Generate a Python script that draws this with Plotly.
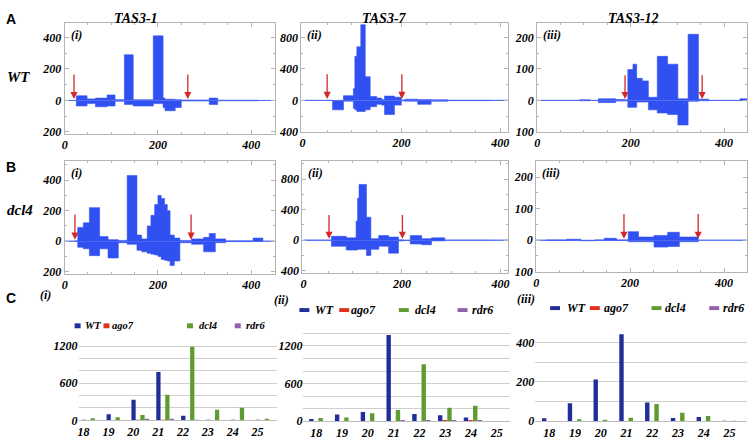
import plotly.graph_objects as go

W, H = 751, 447
BLUE = "#3050f2"
RED = "#d42828"
FRAME = "#b4b4b4"
SERIF = "Liberation Serif, Times New Roman, serif"
SANS = "Liberation Sans, Arial, sans-serif"
C_WT, C_AGO7, C_DCL4, C_RDR6 = "#1f2e98", "#e0301e", "#5f9b30", "#9060a8"

# ---------------- data: small-RNA profiles (position, sense, antisense) ----------------
A1_x   = [0, 25, 48, 66, 91, 108, 128, 147, 190, 211, 215, 237, 250, 310, 328, 415, 450]
A1_pos = [0, 30, 10, 15, 35, 5, 290, 5, 410, 15, 8, 5, 3, 15, 2, 0, 0]
A1_neg = [0, -35, -20, -40, -35, -5, -25, -35, -20, -45, -65, -45, -3, -25, -2, 0, 0]
A1_arrows = [20, 264]
A1_arrow_top = 175

A2_x   = [0, 50, 61, 83, 103, 106, 110, 118, 127, 137, 150, 160, 166, 186, 200, 207, 233, 260, 294, 381, 420]
A2_pos = [0, 2, 0, 60, 150, 560, 680, 960, 300, 50, 30, 10, 55, 40, 5, 15, 10, 8, 3, 0, 0]
A2_neg = [0, -2, -120, -10, -100, -120, -140, -140, -120, -80, -50, -60, -180, -60, -5, -10, -50, -10, -3, 0, 0]
A2_arrows = [50, 201]
A2_arrow_top = 350

A3_x   = [0, 91, 113, 131, 168, 187, 194, 205, 213, 225, 238, 257, 279, 301, 323, 345, 367, 434, 452]
A3_pos = [0, 2, 0, 5, 3, 2, 98, 115, 70, 62, 10, 140, 115, 5, 210, 4, 0, 5, 0]
A3_neg = [0, -1, 0, -7, -2, -2, -22, -22, -5, -5, -30, -40, -45, -78, -3, -1, 0, 0, 0]
A3_arrows = [188, 353]
A3_arrow_top = 85

B1_x   = [0, 22, 28, 40, 53, 75, 93, 115, 134, 155, 165, 177, 185, 193, 200, 207, 214, 220, 226, 235, 247, 272, 298, 310, 323, 345, 404, 425, 450]
B1_pos = [0, 2, 90, 120, 220, 30, 10, 5, 430, 40, 15, 100, 170, 240, 300, 280, 240, 200, 40, 20, 5, 15, 25, 50, 15, 3, 20, 0, 0]
B1_neg = [0, -2, -40, -50, -95, -50, -110, -10, -20, -60, -70, -80, -85, -90, -100, -120, -125, -130, -160, -130, -10, -20, -70, -70, -10, -3, -2, 0, 0]
B1_arrows = [22, 271]
B1_arrow_top = 185

B2_x   = [0, 7, 47, 57, 87, 107, 110, 113, 128, 137, 153, 173, 193, 203, 217, 240, 260, 287, 380, 420]
B2_pos = [0, 2, 2, 50, 30, 250, 550, 730, 300, 20, 60, 40, 5, 2, 60, 20, 30, 3, 0, 0]
B2_neg = [0, -1, -1, -80, -130, -130, -120, -120, -200, -120, -80, -170, -10, -5, -50, -60, -10, -2, 0, 0]
B2_arrows = [52, 201]
B2_arrow_top = 350

B3_x   = [0, 22, 65, 95, 125, 145, 171, 187, 196, 218, 251, 280, 305, 345, 450]
B3_pos = [0, 1, 3, 0, 1, 6, 1, 1, 27, 10, 15, 25, 10, 0, 0]
B3_neg = [0, -1, -1, -2, -1, -1, -1, -1, -5, -5, -22, -20, -5, 0, 0]
B3_arrows = [187, 345]
B3_arrow_top = 88

# ---------------- data: size distribution (nt) ----------------
sizes = [18, 19, 20, 21, 22, 23, 24, 25]
C1_WT   = [5, 96, 332, 782, 75, 5, 3, 2]
C1_ago7 = [0, 0, 10, 5, 0, 0, 0, 0]
C1_dcl4 = [35, 48, 86, 412, 1189, 171, 204, 15]
C1_rdr6 = [0, 0, 15, 20, 5, 0, 0, 0]
C2_WT   = [36, 108, 150, 1375, 118, 98, 62, 5]
C2_ago7 = [0, 0, 0, 0, 0, 10, 10, 3]
C2_dcl4 = [51, 62, 129, 180, 911, 216, 247, 5]
C2_rdr6 = [0, 0, 0, 10, 10, 15, 15, 5]
C3_WT   = [15, 92, 212, 442, 95, 17, 22, 2]
C3_ago7 = [0, 0, 0, 0, 0, 0, 0, 0]
C3_dcl4 = [0, 10, 6, 18, 88, 43, 27, 2]
C3_rdr6 = [0, 0, 0, 0, 0, 0, 0, 0]

series_names = ["WT", "ago7", "dcl4", "rdr6"]
titles = ["TAS3-1", "TAS3-7", "TAS3-12"]


def fx(x):
    return x / W


def fy(y):
    return 1 - y / H


def sfont(size):
    return dict(family=SERIF, size=size, color="black", weight="bold", style="italic")


fig = go.Figure()
annotations = []
shapes = []

tickfont = sfont(12)

profiles = [
    (A1_x, A1_pos, A1_neg, A1_arrows, A1_arrow_top, (62, 273), (23, 136), [0, 450], [-212, 494], [-200, 0, 200, 400], 100, "(i)"),
    (A2_x, A2_pos, A2_neg, A2_arrows, A2_arrow_top, (300, 508), (23, 134), [-2, 416], [-400, 987], [-400, 0, 400, 800], 200, "(ii)"),
    (A3_x, A3_pos, A3_neg, A3_arrows, A3_arrow_top, (537, 748), (23, 134), [0, 449], [-100, 247], [-100, 0, 100, 200], 50, "(iii)"),
    (B1_x, B1_pos, B1_neg, B1_arrows, B1_arrow_top, (62, 273), (164, 278), [0, 450], [-213, 523], [-200, 0, 200, 400], 100, "(i)"),
    (B2_x, B2_pos, B2_neg, B2_arrows, B2_arrow_top, (301, 508), (164, 277), [-2, 416], [-426, 1032], [-400, 0, 400, 800], 200, "(ii)"),
    (B3_x, B3_pos, B3_neg, B3_arrows, B3_arrow_top, (536, 748), (164, 276), [0, 449], [-100, 250], [-100, 0, 100, 200], 50, "(iii)"),
]

layout_axes = {}
for i, (xs, pos, neg, arrows, atop, xd, yd, xr, yr, yt, ymin, lab) in enumerate(profiles):
    n = i + 1
    xa, ya = f"x{n}", f"y{n}"
    for vals in (pos, neg):
        fig.add_trace(go.Scatter(x=xs, y=vals, mode="lines", line=dict(color=BLUE, width=0.6, shape="hv"),
                                 fill="tozeroy", fillcolor=BLUE, xaxis=xa, yaxis=ya, showlegend=False,
                                 hoverinfo="skip"))
    layout_axes[f"xaxis{n}"] = dict(domain=[fx(xd[0]), fx(xd[1])], range=xr, anchor=ya,
                                    tickvals=[0, 200, 400], ticks="inside", ticklen=4, tickcolor=FRAME,
                                    showline=True, linecolor=FRAME, linewidth=1, mirror="allticks",
                                    showgrid=False, zeroline=False, tickfont=tickfont,
                                    minor=dict(dtick=50, ticks="inside", ticklen=2, tickcolor=FRAME))
    layout_axes[f"yaxis{n}"] = dict(domain=[fy(yd[1]), fy(yd[0])], range=yr, anchor=xa,
                                    tickvals=yt, ticktext=[str(abs(v)) for v in yt],
                                    ticks="inside", ticklen=4, tickcolor=FRAME,
                                    showline=True, linecolor=FRAME, linewidth=1, mirror="allticks",
                                    showgrid=False, zeroline=True, zerolinecolor="#c4cdee", zerolinewidth=1,
                                    tickfont=tickfont,
                                    minor=dict(dtick=ymin, ticks="inside", ticklen=2, tickcolor=FRAME))
    for a in arrows:
        annotations.append(dict(x=a, y=atop * 0.05, ax=a, ay=atop, xref=xa, yref=ya, axref=xa, ayref=ya,
                                showarrow=True, arrowhead=2, arrowsize=1.1, arrowwidth=1.3,
                                arrowcolor=RED, text=""))
    annotations.append(dict(x=fx(xd[0] + 4), y=fy(yd[0] + 3), xref="paper", yref="paper",
                            xanchor="left", yanchor="top", showarrow=False, text=lab, font=sfont(12)))

bars = [
    ([C1_WT, C1_ago7, C1_dcl4, C1_rdr6], (76, 275), (339, 427), [17.52, 25.48], 1400, 200, [0, 600, 1200], -7),
    ([C2_WT, C2_ago7, C2_dcl4, C2_rdr6], (302, 510), (326, 428), [17.42, 25.45], 1600, 200, [0, 600, 1200], -2),
    ([C3_WT, C3_ago7, C3_dcl4, C3_rdr6], (535, 748), (328, 428), [17.38, 25.6], 500, 100, [0, 200, 400], -2),
]
colors = [C_WT, C_AGO7, C_DCL4, C_RDR6]
for j, (data, xd, yd, xr, ymax, gstep, labeled, shift) in enumerate(bars):
    n = 7 + j
    xa, ya = f"x{n}", f"y{n}"
    for s, vals in enumerate(data):
        fig.add_trace(go.Bar(x=sizes, y=vals, marker=dict(color=colors[s], line=dict(width=0)),
                             name=series_names[s], xaxis=xa, yaxis=ya, showlegend=False, hoverinfo="skip"))
    gv = list(range(0, ymax + 1, gstep))
    layout_axes[f"xaxis{n}"] = dict(domain=[fx(xd[0]), fx(xd[1])], range=xr, anchor=ya,
                                    tickvals=sizes, ticks="", showline=True, linecolor="#bdbdbd",
                                    showgrid=False, zeroline=False, tickfont=tickfont, ticklabelshift=shift)
    layout_axes[f"yaxis{n}"] = dict(domain=[fy(yd[1]), fy(yd[0])], range=[0, ymax], anchor=xa,
                                    tickvals=gv, ticktext=[str(v) if v in labeled else "" for v in gv],
                                    ticks="", showline=False, showgrid=True, gridcolor="#cfcfcf",
                                    gridwidth=1, zeroline=False, tickfont=tickfont)

# legends of panel C (swatch + label)
legend_rows = [
    (331, 6, 5, 10.5, [(72, 80), (101, 108), (185, 195), (233, 242)], "(i)", (43, 309)),
    (315, 10, 4, 12, [(298, 312), (338, 348), (398, 412), (457, 470)], "(ii)", (280, 314)),
    (313, 10, 4, 12, [(550, 565), (590, 602), (652, 664), (710, 722)], "(iii)", (526, 313)),
]
for yc, sw, sh, fs, items, lab, lp in legend_rows:
    for k, (x0, xt) in enumerate(items):
        shapes.append(dict(type="rect", xref="paper", yref="paper", x0=fx(x0), x1=fx(x0 + sw),
                           y0=fy(yc + sh / 2), y1=fy(yc - sh / 2), fillcolor=colors[k], line=dict(width=0)))
        annotations.append(dict(x=fx(xt), y=fy(yc), xref="paper", yref="paper", xanchor="left",
                                yanchor="middle", showarrow=False, text=series_names[k], font=sfont(fs)))
    annotations.append(dict(x=fx(lp[0]), y=fy(lp[1]), xref="paper", yref="paper", showarrow=False,
                            xanchor="center", text=lab, font=sfont(12)))

# titles and row/panel labels
for t, xc in zip(titles, [134, 384, 634]):
    annotations.append(dict(x=fx(xc), y=fy(9), xref="paper", yref="paper", showarrow=False, xanchor="center",
                            text=t, font=sfont(14)))
for t, (xc, yc) in zip(["A", "B", "C"], [(8, 9), (8, 170), (8, 313)]):
    annotations.append(dict(x=fx(xc), y=fy(yc), xref="paper", yref="paper", showarrow=False, xanchor="center",
                            text=t, font=dict(family=SANS, size=14, color="black", weight="bold")))
annotations.append(dict(x=fx(2), y=fy(68), xref="paper", yref="paper", xanchor="left", showarrow=False,
                        text="WT", font=sfont(15)))
annotations.append(dict(x=fx(2), y=fy(213), xref="paper", yref="paper", xanchor="left", showarrow=False,
                        text="dcl4", font=sfont(15)))

fig.update_layout(width=W, height=H, margin=dict(l=0, r=0, t=0, b=0), paper_bgcolor="white",
                  plot_bgcolor="white", barmode="group", bargap=0.28, bargroupgap=0.05,
                  annotations=annotations, shapes=shapes, **layout_axes)
fig.write_html("out.html", config={"displayModeBar": False},
               post_script="document.body.style.margin='0px';document.body.style.overflow='hidden';")
